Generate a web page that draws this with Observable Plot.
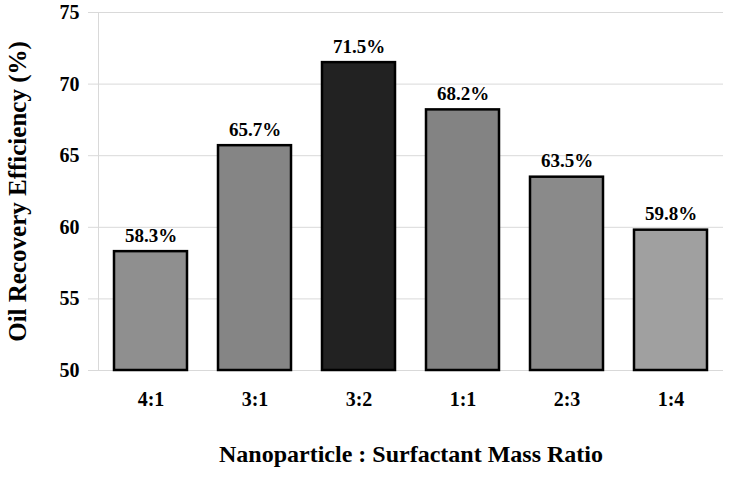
<!DOCTYPE html>
<html>
<head>
<meta charset="utf-8">
<script src="https://cdn.jsdelivr.net/npm/d3@7"></script>
<script src="https://cdn.jsdelivr.net/npm/@observablehq/plot@0.6"></script>
<style>
  body { margin: 0; background: #fff; }
  svg { font-family: "Liberation Serif", "Times New Roman", serif; }
</style>
</head>
<body>
<div id="chart"></div>
<script>
const ratios = ["4:1", "3:1", "3:2", "1:1", "2:3", "1:4"];
const efficiency = [58.3, 65.7, 71.5, 68.2, 63.5, 59.8];
const fills = ["#8f8f8f", "#858585", "#222222", "#838383", "#8a8a8a", "#a0a0a0"];
const yTicks = [50, 55, 60, 65, 70, 75];

const data = ratios.map((r, i) => ({ratio: r, value: efficiency[i], fill: fills[i]}));

const chart = Plot.plot({
  width: 730,
  height: 480,
  marginLeft: 98,
  marginRight: 7,
  marginTop: 12,
  marginBottom: 110,
  style: {fontFamily: "'Liberation Serif', 'Times New Roman', serif", background: "#fff"},
  x: {domain: ratios, paddingInner: 0.3, paddingOuter: 0.15, label: null},
  y: {domain: [50, 75], label: null},
  marks: [
    Plot.ruleY(yTicks, {stroke: "#d9d9d9", strokeWidth: 1, insetLeft: -10}),
    Plot.frame({anchor: "left", stroke: "#d9d9d9", strokeWidth: 1}),
    Plot.barY(data, {x: "ratio", y1: 50, y2: "value", fill: "fill", stroke: "#000", strokeWidth: 2.5}),
    Plot.text(data, {x: "ratio", y: "value", text: d => d.value.toFixed(1) + "%", dy: -16, fontSize: 19, fontWeight: "bold", fill: "#000"}),
    Plot.axisY(yTicks, {tickSize: 0, tickPadding: 19, fontSize: 20, fontWeight: "bold", fill: "#000", label: null}),
    Plot.axisX({tickSize: 0, tickPadding: 21, fontSize: 20, fontWeight: "bold", fill: "#000", label: null}),
    Plot.text(["Nanoparticle : Surfactant Mass Ratio"], {frameAnchor: "bottom", dy: 91, fontSize: 24, fontWeight: "bold", fill: "#000"}),
    Plot.text(["Oil Recovery Efficiency (%)"], {frameAnchor: "left", textAnchor: "middle", dx: -81, dy: 0, rotate: -90, fontSize: 25, fontWeight: "bold", fill: "#000"})
  ]
});
document.getElementById("chart").appendChild(chart);
</script>
</body>
</html>
